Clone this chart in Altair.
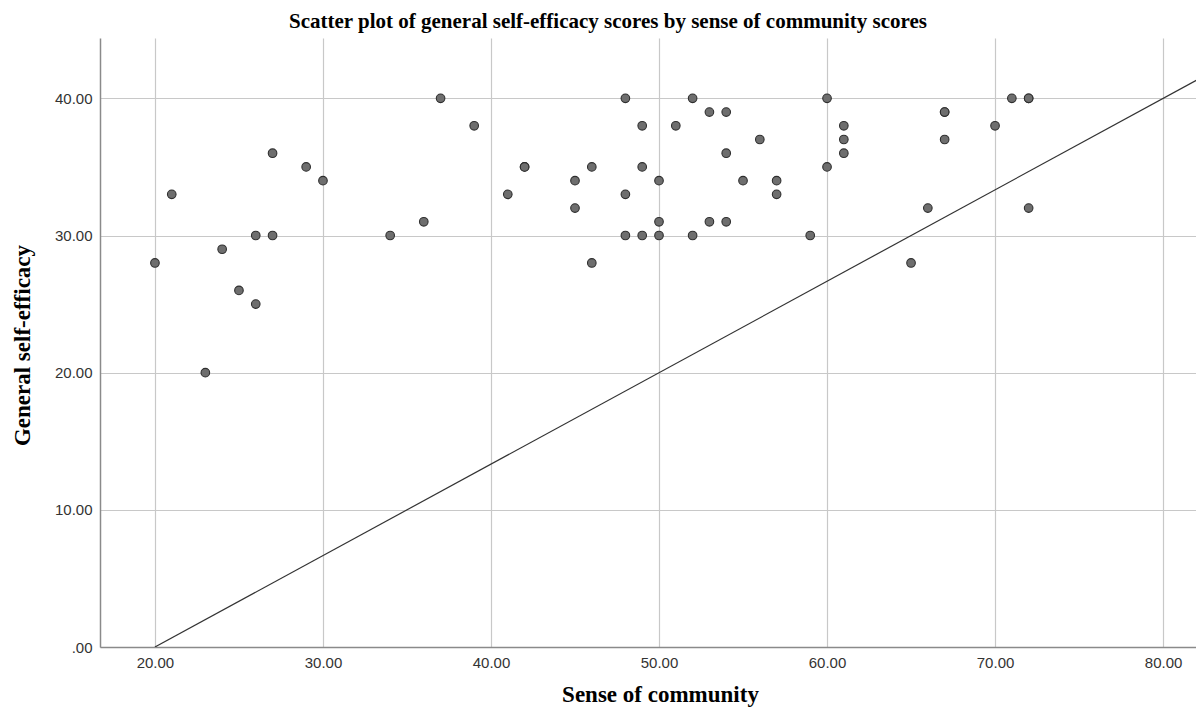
import altair as alt
import pandas as pd

# Points (Sense of community, General self-efficacy)
sense = [20, 21, 23, 24, 25, 26, 26, 27, 27, 29, 30, 34, 36, 37, 39, 41,
         42, 42, 45, 45, 46, 46, 48, 48, 48, 49, 49, 49, 50, 50, 50, 51,
         52, 52, 53, 53, 54, 54, 54, 55, 56, 57, 57, 59, 60, 60,
         61, 61, 61, 65, 66, 67, 67, 67, 70, 71, 72, 72, 72]
efficacy = [28, 33, 20, 29, 26, 30, 25, 36, 30, 35, 34, 30, 31, 40, 38, 33,
            35, 35, 34, 32, 35, 28, 40, 33, 30, 38, 35, 30, 34, 31, 30, 38,
            40, 30, 39, 31, 39, 36, 31, 34, 37, 34, 33, 30, 40, 35,
            38, 37, 36, 28, 32, 39, 39, 37, 38, 40, 40, 40, 32]

# Reference line endpoints
line_x = [20, 85]
line_y = [0, 43.33]

x_ticks = [20, 30, 40, 50, 60, 70, 80]
y_ticks = [0, 10, 20, 30, 40]

pts = pd.DataFrame({"x": sense, "y": efficacy})
ln = pd.DataFrame({"x": line_x, "y": line_y})

xscale = alt.Scale(domain=[16.73, 81.96], nice=False, zero=False)
yscale = alt.Scale(domain=[0, 44.4], nice=False, zero=False)

xaxis = alt.Axis(values=x_ticks, format=".2f", title="Sense of community",
                 ticks=False, labelPadding=8,
                 titleX=560, titleY=54, titleBaseline="alphabetic")
yaxis = alt.Axis(values=y_ticks, title="General self-efficacy",
                 labelExpr="datum.value == 0 ? '.00' : format(datum.value, '.2f')",
                 ticks=False, labelPadding=8,
                 titleX=-78, titleY=307, titleBaseline="middle")

points = alt.Chart(pts).mark_point(
    filled=True, shape="circle", size=74, fill="#6e6e6e",
    stroke="#2e2e2e", strokeWidth=1.1, opacity=1
).encode(
    x=alt.X("x:Q", scale=xscale, axis=xaxis),
    y=alt.Y("y:Q", scale=yscale, axis=yaxis),
)

line = alt.Chart(ln).mark_line(color="#333333", strokeWidth=1.2, clip=True).encode(
    x=alt.X("x:Q", scale=xscale),
    y=alt.Y("y:Q", scale=yscale),
)

chart = alt.layer(line, points).properties(
    width=1096,
    height=609,
    title=alt.TitleParams(
        "Scatter plot of general self-efficacy scores by sense of community scores",
        font="Liberation Serif", fontSize=21, fontWeight="bold", color="#000000",
        anchor="middle", dx=-40, dy=22, offset=11, baseline="alphabetic",
    ),
    autosize=alt.AutoSizeParams(type="none"),
    padding={"left": 92, "top": 30, "right": 0, "bottom": 60},
).configure_view(stroke=None).configure_axis(
    gridColor="#c8c8c8", gridWidth=1.2,
    domainColor="#8a8a8a", domainWidth=1.5,
    labelFont="Liberation Sans", labelFontSize=15, labelColor="#333333",
    titleFont="Liberation Serif", titleFontSize=23, titleFontWeight="bold",
    titleColor="#000000",
)

chart.save("out.html", embed_options={"renderer": "svg", "actions": False})
